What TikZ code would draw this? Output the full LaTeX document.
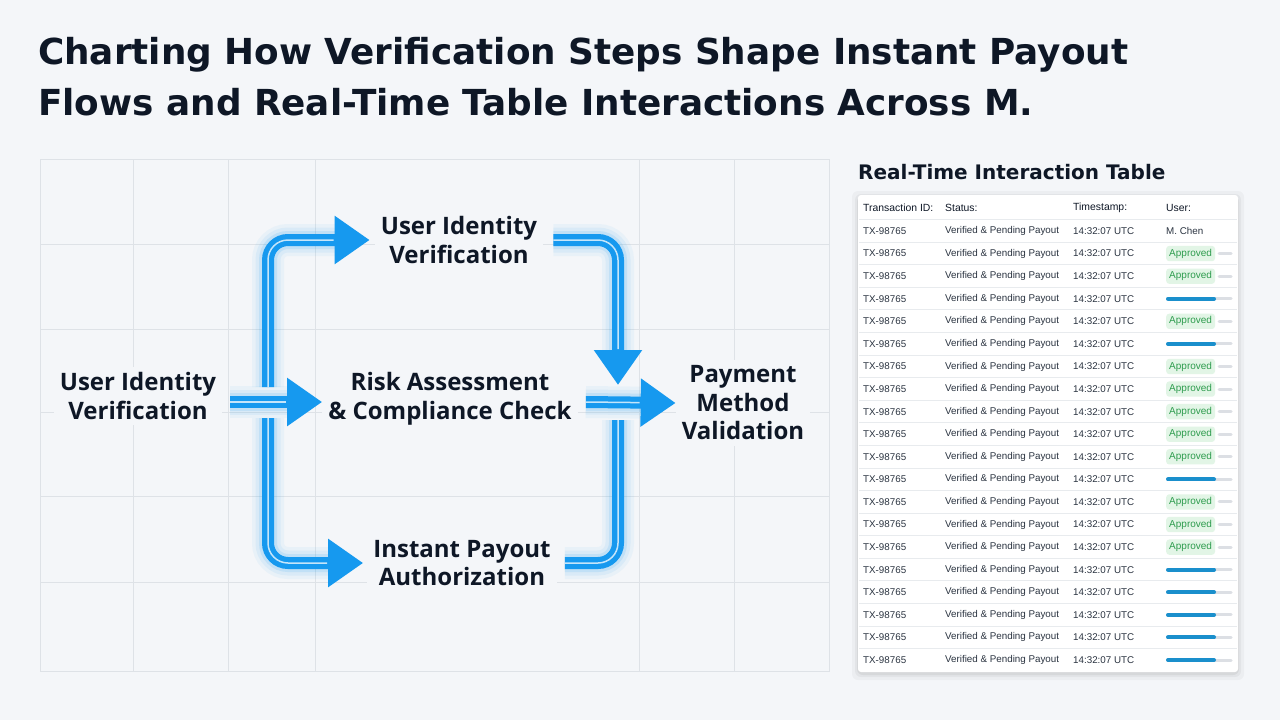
\documentclass[tikz,border=0pt]{standalone}
\usepackage{fontspec}
\setmainfont{Liberation Sans}
\newfontfamily\headfont{Open Sans}
\newfontfamily\titlefont{DejaVu Sans}
\usetikzlibrary{arrows.meta,calc,positioning}

\definecolor{bgcol}{HTML}{F4F6F9}
\definecolor{ink}{HTML}{0E1726}
\definecolor{gridcol}{HTML}{DEE2E7}
\definecolor{flowblue}{HTML}{1699EF}
\definecolor{cellink}{HTML}{2A3340}
\definecolor{okfill}{HTML}{E2F5E6}
\definecolor{oktext}{HTML}{2E9C4E}
\definecolor{meterblue}{HTML}{1A8FCC}
\definecolor{stubgray}{HTML}{DCDFE4}

\begin{document}
\begin{tikzpicture}[x=1pt,y=-1pt,
    stage/.style={font=\headfont\bfseries\fontsize{24}{28.5}\selectfont, text=ink, align=center, fill=bgcol, inner sep=6pt},
    gridline/.style={draw=gridcol, line width=0.9pt},
    flow/.style={draw=flowblue, line width=12pt, rounded corners=20pt,
      -{Triangle[length=35pt 0 0, width=46pt 0 0]},
      preaction={draw=flowblue, draw opacity=0.05, line width=32pt, -, shorten >=22pt},
      preaction={draw=flowblue, draw opacity=0.07, line width=25pt, -, shorten >=22pt},
      preaction={draw=flowblue, draw opacity=0.12, line width=18pt, -, shorten >=22pt},
      postaction={draw=white, draw opacity=0.75, line width=1.5pt, -, shorten >=36pt}},
    flowline/.style={draw=flowblue, line width=12pt, rounded corners=20pt,
      preaction={draw=flowblue, draw opacity=0.05, line width=32pt},
      preaction={draw=flowblue, draw opacity=0.07, line width=25pt},
      preaction={draw=flowblue, draw opacity=0.12, line width=18pt},
      postaction={draw=white, draw opacity=0.75, line width=1.5pt}},
    cell/.style={anchor=west, inner sep=0pt, text=cellink, font=\fontsize{9.8}{11}\selectfont},
    headcell/.style={cell, text=ink, font=\fontsize{10.4}{12}\selectfont},
    badge/.style={anchor=west, fill=okfill, text=oktext, rounded corners=3pt, inner xsep=3pt, inner ysep=3pt, font=\fontsize{10}{11}\selectfont},
    rowsep/.style={draw=gridcol!70, line width=0.7pt},
    stub/.style={draw=stubgray, line width=3pt, line cap=round},
    meter/.style={draw=meterblue, line width=4pt, line cap=round},
]

% background
\fill[bgcol] (0,0) rectangle (1280,720);
\useasboundingbox (0,0) rectangle (1280,720);

% title
\node[anchor=north west, inner sep=0pt, align=left, text=ink,
  font=\titlefont\bfseries\fontsize{35.8}{51}\selectfont] (title) at (38,37)
  {Charting How Verification Steps Shape Instant Payout\\Flows and Real-Time Table Interactions Across M.};

% grid behind the flow
\draw[gridline] (40,159) rectangle (829,671);
\foreach \gx in {133,228,315,639,734}
  \draw[gridline] (\gx,159) -- (\gx,671);
\foreach \gy in {244,329,412,496,582}
  \draw[gridline] (40,\gy) -- (829,\gy);

% stages
\node[stage] (uiv) at (138,396) {User Identity\\Verification};
\node[stage] (uivtop) at (459,240) {User Identity\\Verification};
\node[stage] (risk) at (450,399) {Risk Assessment\\\& Compliance Check};
\node[stage] (payout) at (462,563) {Instant Payout\\Authorization};
\node[stage] (pay) at (743,403) {Payment\\Method\\Validation};

% junctions on the flow
\coordinate (jl) at (268,402);
\coordinate (jr) at (618,402);

% connectors
\draw[flow] ([xshift=8pt]uiv.east |- jl) -- (risk.west |- jl);
\draw[flow] ([yshift=15pt]jl) |- ([xshift=-5pt]uivtop.west);
\draw[flow] ([yshift=-16pt]jl) |- ([xshift=-4pt]payout.west);
\draw[flow] ([xshift=10pt]uivtop.east) -| ([yshift=17pt]jr);
\draw[flow] ([xshift=8pt]risk.east |- jr) -- (pay.west);
\draw[flowline] ([xshift=8pt]payout.east) -| ([yshift=-18pt]jr);

% table
\node[anchor=west, inner sep=0pt, text=ink, font=\titlefont\bfseries\fontsize{20}{24}\selectfont]
  (tabtitle) at (858,172) {Real-Time Interaction Table};
\foreach \k/\o in {1/0.05,3/0.04,6/0.03}
  \fill[black, opacity=\o, rounded corners=6pt] (858-\k,195-\k+2) rectangle (1238+\k,672+\k+2);
\fill[white, rounded corners=3pt] (858,195) rectangle (1238,672) coordinate (card);

\node[headcell] (hid) at (863,208) {Transaction ID:};
\node[headcell] (hst) at (945,208) {Status:};
\node[headcell] (hts) at (1073,208) {Timestamp:};
\node[headcell] (hus) at (1166,208) {User:};

\foreach \i in {0,...,19}
  \draw[rowsep] (859,{219.5+\i*22.58}) -- (1237,{219.5+\i*22.58});

\foreach \i in {1,...,20}{
  \node[cell] (tx\i) at (863,{231+(\i-1)*22.58}) {TX-98765};
  \node[cell] (st\i) at (945,{231+(\i-1)*22.58}) {Verified \& Pending Payout};
  \node[cell] (ts\i) at (1073,{231+(\i-1)*22.58}) {14:32:07 UTC};
}
\node[cell] (user1) at (1166,231) {M. Chen};

\foreach \i in {2,3,5,7,8,9,10,11,13,14,15}{
  \node[badge] (ok\i) at (1166,{231+(\i-1)*22.58}) {Approved};
  \draw[stub] ([xshift=4pt]ok\i.east) -- (1231,{231+(\i-1)*22.58});
}
\foreach \i in {4,6,12,16,17,18,19,20}{
  \coordinate (bar\i) at (1168,{231+(\i-1)*22.58});
  \draw[stub] (bar\i) -- ++(63,0);
  \draw[meter] (bar\i) -- ++(46,0);
}

\end{tikzpicture}
\end{document}
